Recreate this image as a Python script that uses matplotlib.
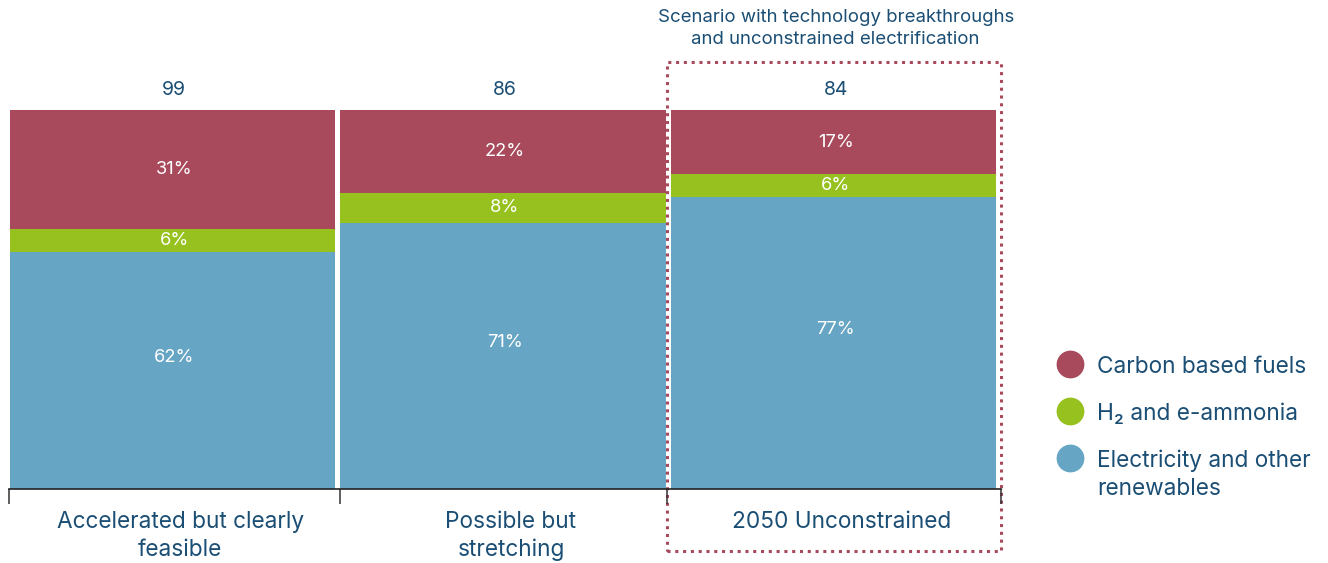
import numpy as np
import matplotlib as mpl
from matplotlib import pyplot as plt
from matplotlib.patches import Rectangle
from matplotlib.lines import Line2D

plt.rcParams['font.family'] = ['Inter', 'DejaVu Sans']
mpl.rcParams['axes.unicode_minus'] = False

# data
categories = ['Accelerated but clearly\nfeasible', 'Possible but\nstretching', '2050 Unconstrained']
totals = [99, 86, 84]
electricity = [62, 71, 77]
hydrogen = [6, 8, 6]
carbon = [31, 22, 17]
series_names = ['Carbon based fuels', 'H\u2082 and e-ammonia', 'Electricity and other\nrenewables']
note = 'Scenario with technology breakthroughs\nand unconstrained electrification'

c_red = '#a84a5c'
c_green = '#97c11f'
c_blue = '#66a5c4'
c_text = '#1b4e74'

W, H = 1328, 563
fig = plt.figure(figsize=(W / 100, H / 100), dpi=100)
ax = fig.add_axes([9 / W, 74 / H, 992 / W, 379 / H])

elec = np.array(electricity, float)
h2 = np.array(hydrogen, float)
carb = np.array(carbon, float)
s = elec + h2 + carb
elec_n, h2_n, carb_n = elec / s * 100, h2 / s * 100, carb / s * 100

x = np.arange(len(categories)) + 0.5
bw = 0.984
ax.bar(x - 0.006, elec_n, bw, color=c_blue, linewidth=0)
ax.bar(x - 0.006, h2_n, bw, bottom=elec_n, color=c_green, linewidth=0)
ax.bar(x - 0.006, carb_n, bw, bottom=elec_n + h2_n, color=c_red, linewidth=0)

fs_pct = 13.2
for i in range(len(x)):
    ax.text(x[i], elec_n[i] / 2 + 3.5, f'{electricity[i]}%', ha='center', va='center', color='white', fontsize=fs_pct)
    ax.text(x[i], elec_n[i] + h2_n[i] / 2, f'{hydrogen[i]}%', ha='center', va='center', color='white', fontsize=fs_pct)
    ax.text(x[i], elec_n[i] + h2_n[i] + carb_n[i] / 2, f'{carbon[i]}%', ha='center', va='center', color='white', fontsize=fs_pct)
    ax.text(x[i], 105.2, str(totals[i]), ha='center', va='center', color=c_text, fontsize=14)

ax.set_xlim(0, 3)
ax.set_ylim(0, 100)
for sp in ['top', 'right', 'left']:
    ax.spines[sp].set_visible(False)
ax.spines['bottom'].set_color('#222222')
ax.spines['bottom'].set_linewidth(1.2)
ax.set_yticks([])
ax.set_xticks([0, 1, 1.99, 3])
ax.set_xticklabels([])
ax.tick_params(axis='x', which='major', length=11, width=1.1, color='#333333', direction='out')
ax.set_xticks(x + 0.018, minor=True)
ax.set_xticklabels(categories, minor=True, fontsize=16.3, color=c_text, linespacing=1.33)
ax.tick_params(axis='x', which='minor', length=0, pad=16)

# dotted box around the unconstrained scenario
box = Rectangle((1.99, -0.164), 1.01, 1.291, transform=ax.get_xaxis_transform(), fill=False,
                edgecolor=c_red, linestyle=(0, (1, 1.55)), linewidth=2.2, clip_on=False)
ax.add_patch(box)
ax.text(2.5, 1.216, note, transform=ax.get_xaxis_transform(), ha='center', va='center',
        color=c_text, fontsize=13.4, linespacing=1.38)

# legend
colors = [c_red, c_green, c_blue]
leg_y = [364, 411, 458]
for name, col, yy in zip(series_names, colors, leg_y):
    fig.add_artist(Line2D([1070 / W], [1 - yy / H], transform=fig.transFigure, marker='o',
                          markersize=19, color=col, linestyle='none'))
    fig.text(1097 / W, 1 - (yy - 8) / H, name, ha='left', va='top', color=c_text, fontsize=16.3,
             linespacing=1.33)

plt.savefig('out.png', dpi=100)
